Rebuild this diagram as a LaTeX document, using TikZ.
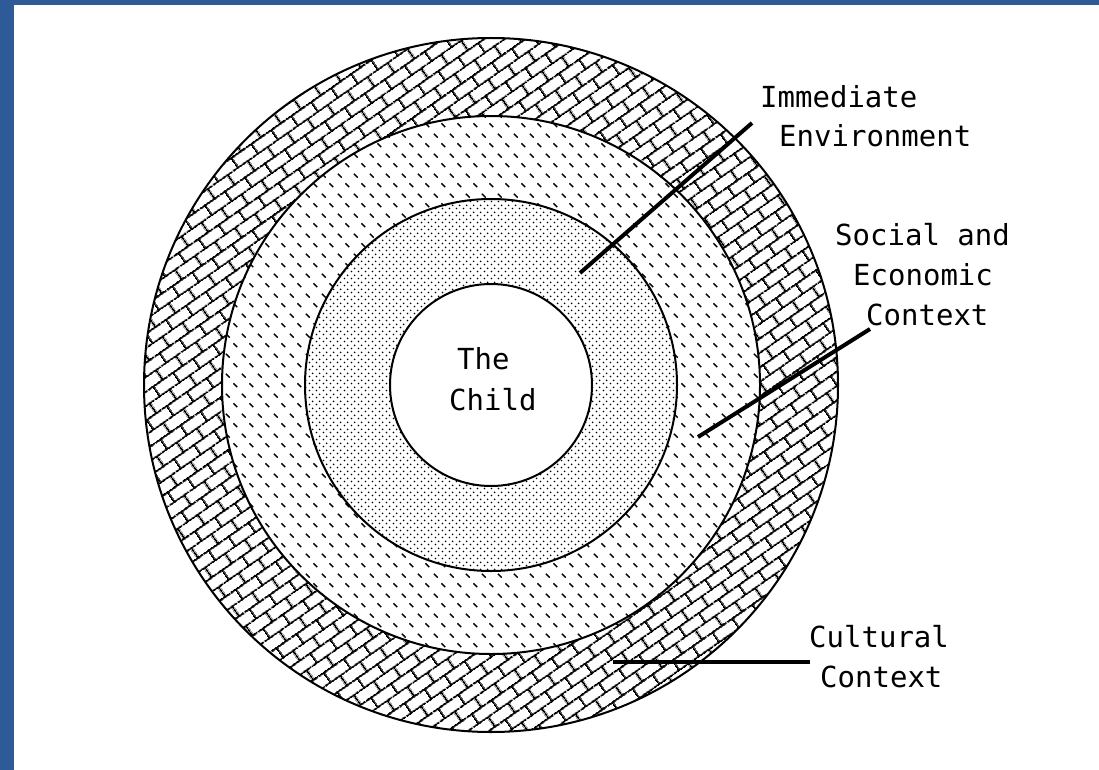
\documentclass[tikz,border=0pt]{standalone}
\usepackage{fontspec}
\newfontfamily\labelfont{DejaVu Sans Mono}
\usetikzlibrary{patterns.meta}
\definecolor{frameblue}{RGB}{46,90,152}
\tikzdeclarepattern{
  name=ringdots, type=uncolored,
  bottom left={(0pt,0pt)}, top right={(7pt,7pt)}, tile size={(7pt,7pt)},
  code={\fill (1.75pt,1.75pt) circle (1.05pt); \fill (5.25pt,5.25pt) circle (1.05pt);}
}
\tikzdeclarepattern{
  name=ringdash, type=uncolored,
  bottom left={(0pt,0pt)}, top right={(16pt,20pt)}, tile size={(16pt,20pt)},
  code={\draw[line width=1.5pt] (2pt,17pt) -- (6pt,13pt) (10pt,7pt) -- (14pt,3pt);}
}
\tikzdeclarepattern{
  name=ringbricks, type=uncolored,
  bottom left={(0pt,0pt)}, top right={(24pt,24pt)}, tile size={(24pt,24pt)},
  tile transformation={rotate=35},
  code={\draw[line width=1.9pt] (0pt,6pt) -- (24pt,6pt) (0pt,18pt) -- (24pt,18pt)
        (6pt,6pt) -- (6pt,18pt) (18pt,18pt) -- (18pt,24pt) (18pt,0pt) -- (18pt,6pt);}
}
\tikzset{
  ring/.style={draw=black, line width=2pt, preaction={fill=white}},
  lbl/.style={anchor=base west, inner sep=0pt, font=\labelfont\fontsize{29}{35}\selectfont},
  leader/.style={line width=4pt, black}
}
\begin{document}
\begin{tikzpicture}[x=1pt,y=-1pt]
\useasboundingbox (0,0) rectangle (1099,770);
\fill[white] (0,0) rectangle (1099,770);
\fill[frameblue] (0,0) rectangle (14,770);
\fill[frameblue] (0,0) rectangle (1099,5);
\coordinate (c) at (491,385);
\path[ring, pattern=ringbricks] (c) circle (347);
\path[ring, pattern=ringdash] (c) circle (269);
\path[ring, pattern=ringdots] (c) circle (186);
\path[ring] (c) circle (101);
\node[lbl] (the) at (457,369) {The};
\node[lbl] (child) at (449,410) {Child};
\node[lbl] (imm) at (760,108) {Immediate};
\node[lbl] (env) at (779,147) {Environment};
\node[lbl] (soc) at (835,245) {Social and};
\node[lbl] (eco) at (853,285) {Economic};
\node[lbl] (con1) at (866,325) {Context};
\node[lbl] (cul) at (809,647) {Cultural};
\node[lbl] (con2) at (820,687) {Context};
\coordinate (imA) at (752,123);
\coordinate (imB) at (580,273);
\coordinate (soA) at (870,329);
\coordinate (soB) at (698,437);
\coordinate (cuA) at (810,662);
\coordinate (cuB) at (613,662);
\draw[leader] (imA) -- (imB);
\draw[leader] (soA) -- (soB);
\draw[leader] (cuA) -- (cuB);
\end{tikzpicture}
\end{document}
